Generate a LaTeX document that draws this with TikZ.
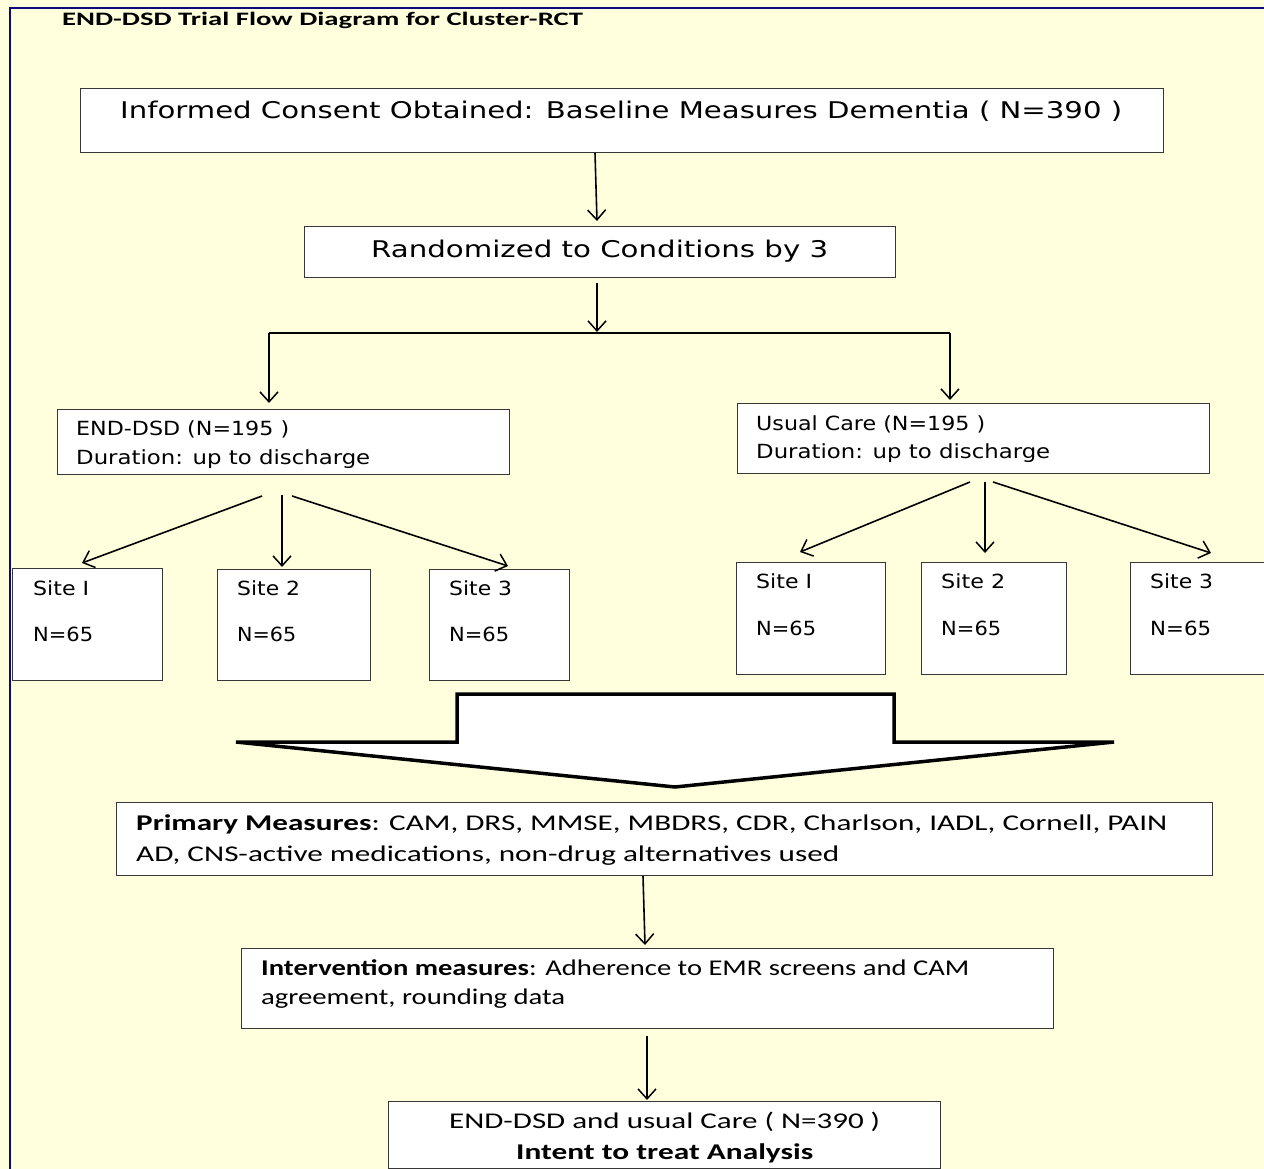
\documentclass[tikz,border=0pt]{standalone}
\usepackage{fontspec}
\usepackage{graphicx}
\setmainfont{DejaVu Sans}
\newfontfamily\cb{Carlito}
\usetikzlibrary{arrows.meta}
\definecolor{bg}{RGB}{255,255,221}
\definecolor{framecol}{RGB}{10,10,120}
\definecolor{boxline}{RGB}{55,55,55}
\newcommand\fw[2]{\resizebox{#1pt}{\height}{#2}}
\tikzset{
  box/.style={draw=boxline, line width=1.2pt, fill=white, inner sep=0pt, anchor=north west},
  txt/.style={anchor=base west, inner sep=0pt},
  big/.style={font=\fontsize{23}{27}\selectfont},
  mid/.style={font=\fontsize{19.5}{23}\selectfont},
  cal/.style={font=\cb\fontsize{22.5}{26}\selectfont},
  conn/.style={line width=1.6pt, -{Straight Barb[length=10pt,width=18pt,line width=1.5pt]}},
  plain/.style={line width=1.6pt},
}
\begin{document}
\begin{tikzpicture}[x=1pt,y=-1pt]
\useasboundingbox (0,0) rectangle (1264,1169);
\clip (0,0) rectangle (1264,1169);
\fill[bg] (0,0) rectangle (1264,1169);
\draw[framecol, line width=2.5pt] (10,8) rectangle (1400,1300);

% title
\node[txt, font=\cb\bfseries\fontsize{19}{22}\selectfont] (title) at (62,26) {\fw{521}{END-DSD Trial Flow Diagram for Cluster-RCT}};

% top boxes
\node[box, minimum width=1083, minimum height=64] (b1) at (80,88) {};
\node[txt, big] (t1) at (120,119) {\fw{1002}{Informed Consent Obtained: Baseline Measures Dementia ( N=390 )}};
\node[box, minimum width=591, minimum height=51] (b2) at (304,226) {};
\node[txt, big] (t2) at (371,258) {\fw{457}{Randomized to Conditions by 3}};

% arm boxes
\node[box, minimum width=452, minimum height=65] (bl) at (57,409) {};
\node[txt, mid] (tl1) at (76,435) {\fw{213}{END-DSD (N=195 )}};
\node[txt, mid] (tl2) at (76,464) {\fw{294}{Duration: up to discharge}};
\node[box, minimum width=472, minimum height=70] (br) at (737,403) {};
\node[txt, mid] (tr1) at (756,430) {\fw{229}{Usual Care (N=195 )}};
\node[txt, mid] (tr2) at (756,458) {\fw{294}{Duration: up to discharge}};

% site boxes left
\node[box, minimum width=150, minimum height=112] (sl1) at (12,568) {};
\node[txt, mid] (sl1a) at (33,595) {\fw{56}{Site I}};
\node[txt, mid] (sl1b) at (33,641) {\fw{60}{N=65}};
\node[box, minimum width=153, minimum height=111] (sl2) at (217,569) {};
\node[txt, mid] (sl2a) at (237,595) {\fw{63}{Site 2}};
\node[txt, mid] (sl2b) at (237,641) {\fw{59}{N=65}};
\node[box, minimum width=140, minimum height=111] (sl3) at (429,569) {};
\node[txt, mid] (sl3a) at (449,595) {\fw{63}{Site 3}};
\node[txt, mid] (sl3b) at (449,641) {\fw{60}{N=65}};

% site boxes right
\node[box, minimum width=149, minimum height=112] (sr1) at (736,562) {};
\node[txt, mid] (sr1a) at (756,588) {\fw{56}{Site I}};
\node[txt, mid] (sr1b) at (756,635) {\fw{60}{N=65}};
\node[box, minimum width=145, minimum height=112] (sr2) at (921,562) {};
\node[txt, mid] (sr2a) at (941,588) {\fw{64}{Site 2}};
\node[txt, mid] (sr2b) at (941,635) {\fw{60}{N=65}};
\node[box, minimum width=160, minimum height=112] (sr3) at (1130,562) {};
\node[txt, mid] (sr3a) at (1150,588) {\fw{63}{Site 3}};
\node[txt, mid] (sr3b) at (1150,635) {\fw{61}{N=65}};

% block arrow
\draw[line width=3.5pt, fill=white, line join=miter]
  (457,742) -- (457,694) -- (894,694) -- (894,742) -- (1114,742) -- (675,787) -- (236,742) -- cycle;

% lower boxes
\node[box, minimum width=1096, minimum height=73] (pm) at (116,802) {};
\node[txt, cal] (pm1) at (136,830) {\fw{1031}{\textbf{Primary Measures}: CAM, DRS, MMSE, MBDRS, CDR, Charlson, IADL, Cornell, PAIN}};
\node[txt, cal] (pm2) at (136,861) {\fw{703}{AD, CNS-active medications, non-drug alternatives used}};
\node[box, minimum width=812, minimum height=80] (im) at (241,948) {};
\node[txt, cal] (im1) at (261,975) {\fw{708}{\textbf{Intervention measures}: Adherence to EMR screens and CAM}};
\node[txt, cal] (im2) at (261,1004) {\fw{304}{agreement, rounding data}};
\node[box, minimum width=552, minimum height=67] (fb) at (388,1101) {};
\node[txt, cal] (fb1) at (449,1128) {\fw{431}{END-DSD and usual Care ( N=390 )}};
\node[txt, cal] (fb2) at (516,1159) {\fw{297}{\textbf{Intent to treat Analysis}}};

% connectors
\coordinate (a1s) at (595,153);
\coordinate (a1e) at (597,221);
\draw[conn] (a1s) -- (a1e);
\coordinate (a2s) at (597,283);
\coordinate (a2e) at (597,332);
\draw[conn] (a2s) -- (a2e);
\coordinate (jL) at (269,333);
\coordinate (jR) at (950,333);
\draw[plain] (jL) -- (jR);
\coordinate (aLe) at (269,403);
\coordinate (aRe) at (950,400);
\draw[conn] (jL) -- (aLe);
\draw[conn] (jR) -- (aRe);

\coordinate (fl1) at (262,496);
\coordinate (fl2) at (282,495);
\coordinate (fl3) at (292,496);
\coordinate (el1) at (82,563);
\coordinate (el2) at (282,567);
\coordinate (el3) at (508,566);
\draw[conn] (fl1) -- (el1);
\draw[conn] (fl2) -- (el2);
\draw[conn] (fl3) -- (el3);

\coordinate (fr1) at (970,482);
\coordinate (fr2) at (985,482);
\coordinate (fr3) at (993,482);
\coordinate (er1) at (800,552);
\coordinate (er2) at (985,553);
\coordinate (er3) at (1211,553);
\draw[conn] (fr1) -- (er1);
\draw[conn] (fr2) -- (er2);
\draw[conn] (fr3) -- (er3);

\coordinate (a3s) at (643,876);
\coordinate (a3e) at (645,945);
\draw[conn] (a3s) -- (a3e);
\coordinate (a4s) at (647,1036);
\coordinate (a4e) at (647,1100);
\draw[conn] (a4s) -- (a4e);
\end{tikzpicture}
\end{document}
